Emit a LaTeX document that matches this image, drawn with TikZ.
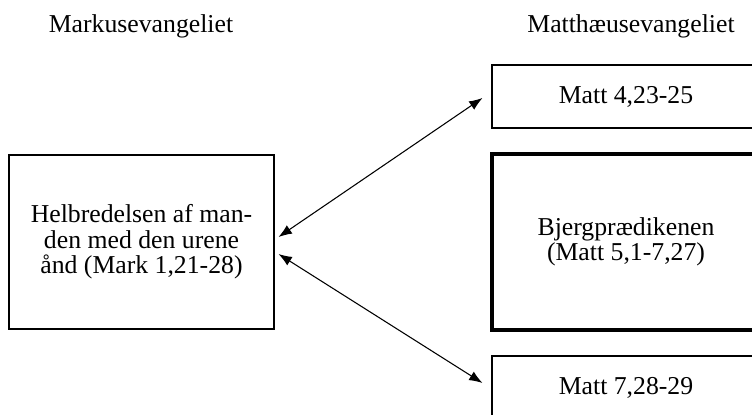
\documentclass[tikz,border=0pt]{standalone}
\usepackage{fontspec}
\setmainfont{Liberation Serif}
\usetikzlibrary{arrows.meta, positioning}

\tikzset{
	txt/.style={font=\fontsize{19.3pt}{19pt}\selectfont, inner sep=0pt},
	gospelbox/.style={txt, draw, line width=0.8pt, align=center},
	link/.style={line width=0.8pt, {Latex[length=10pt,width=7.5pt]}-{Latex[length=10pt,width=7.5pt]}}
}

\begin{document}
\begin{tikzpicture}[x=0.75pt,y=0.75pt,yscale=-1,xscale=1]
	%set diagram left start at 0, and has height of 414
	\useasboundingbox (0,0) rectangle (752,414);
	\clip (0,0) rectangle (752,414);
	
	% Headers
	\node (markhead) at (141,32) [txt, anchor=base] {Markusevangeliet};
	\node (matthead) at (631,32) [txt, anchor=base] {Matthæusevangeliet};
	
	% Mark
	\node (healing) at (141.5,242) [gospelbox, minimum width=198.75pt, minimum height=130.5pt]
		{Helbredelsen af man-\\den med den urene\\ånd (Mark 1,21-28)};
	
	% Matthew
	\node (summary) at (626,96.5) [gospelbox, minimum width=201pt, minimum height=47.25pt] {Matt 4,23-25};
	\node (sermon) at (626,242) [gospelbox, line width=3.6pt, minimum width=201pt, minimum height=132pt]
		{Bjergprædikenen\\(Matt 5,1-7,27)};
	\node (reaction) at (626,387.5) [gospelbox, minimum width=201pt, minimum height=47.25pt] {Matt 7,28-29};
	
	% Links
	\draw [link] ([shift={(4,-5)}]healing.east) -- ([shift={(-9,1.5)}]summary.west);
	\draw [link] ([shift={(4,12)}]healing.east) -- ([shift={(-9,-4.5)}]reaction.west);
	
\end{tikzpicture}
\end{document}
